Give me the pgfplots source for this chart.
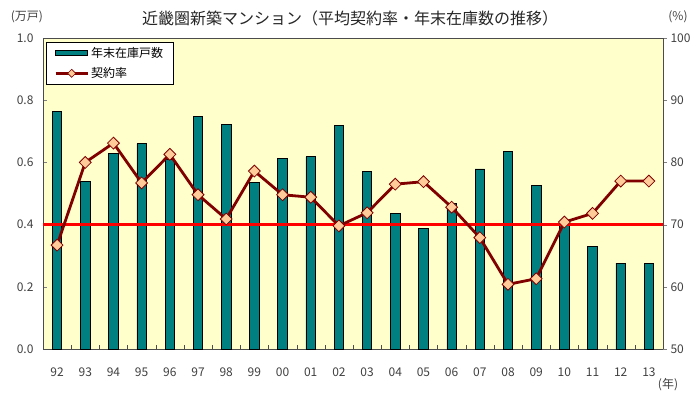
\documentclass[border=0pt]{standalone}
\usepackage{pgfplots}
\pgfplotsset{compat=1.18}
\usepackage{fontspec}
\setmainfont{Noto Sans CJK JP}
\definecolor{bg}{HTML}{FFFFCC}
\definecolor{barc}{HTML}{008080}
\definecolor{linec}{HTML}{800000}
\definecolor{mk}{HTML}{FFCC99}
\definecolor{tl}{HTML}{404040}
\begin{document}
\begin{tikzpicture}
\useasboundingbox (-43pt,-50pt) rectangle (657pt,349pt);
\begin{axis}[at={(0,0)}, anchor=south west, scale only axis, width=620pt, height=311pt,
 xmin=-0.5, xmax=21.5, ymin=0, ymax=1,
 axis background/.style={fill=bg},
 axis line style={black!70, line width=0.8pt},
 xtick={0,...,21},
 xticklabels={92,93,94,95,96,97,98,99,00,01,02,03,04,05,06,07,08,09,10,11,12,13},
 major x tick style={draw=none},
 minor xtick={0.5,1.5,...,20.5},
 minor x tick style={black!70},
 minor tick length=4pt, major tick length=4pt,
 ytick={0,0.2,0.4,0.6,0.8,1},
 /pgf/number format/fixed, /pgf/number format/fixed zerofill, /pgf/number format/precision=1,
 tick align=inside, ytick pos=left, xtick pos=bottom,
 /pgf/number format/assume math mode=true,
 tick label style={font=\fontsize{12}{13}\selectfont, text=tl},
 xticklabel style={yshift=-15pt},
 yticklabel style={xshift=-6pt},
 ]
\addplot[ybar, bar width=9.5pt, fill=barc, draw=black, line width=0.7pt] coordinates {
(0,0.765) (1,0.54) (2,0.63) (3,0.66) (4,0.61) (5,0.747) (6,0.723) (7,0.535)
(8,0.612) (9,0.618) (10,0.719) (11,0.57) (12,0.436) (13,0.388) (14,0.468)
(15,0.579) (16,0.636) (17,0.525) (18,0.407) (19,0.33) (20,0.276) (21,0.276)};
\end{axis}
\begin{axis}[at={(0,0)}, anchor=south west, scale only axis, width=620pt, height=311pt,
 xmin=-0.5, xmax=21.5, ymin=50, ymax=100,
 axis x line=none, axis y line*=right,
 axis line style={black!70, line width=0.8pt},
 ytick={50,60,70,80,90,100},
 tick align=outside, major tick length=4pt,
 /pgf/number format/assume math mode=true,
 tick label style={font=\fontsize{12}{13}\selectfont, text=tl},
 legend style={at={(0.005,0.988)}, anchor=north west, draw=black, fill=white,
   font=\fontsize{12}{13}\selectfont, row sep=5pt, inner xsep=8pt, inner ysep=3pt,
   cells={anchor=west}},
 ]
\addlegendimage{legend image code/.code={\draw[fill=barc, draw=black, line width=0.7pt] (0pt,-2.5pt) rectangle (32pt,2.5pt);}}
\addlegendentry{年末在庫戸数}
\addplot[red, line width=2.6pt, forget plot] coordinates {(-0.5,70) (21.5,70)};
\addplot[linec, line width=2.8pt, mark=square*, mark size=4.2pt,
  mark options={rotate=45, fill=mk, draw=linec, line width=0.8pt},
  legend image code/.code={\draw[linec, line width=2.8pt] (0pt,0pt) -- (32pt,0pt);
    \draw[fill=mk, draw=linec, line width=0.6pt] (16pt,4pt) -- (20pt,0pt) -- (16pt,-4pt) -- (12pt,0pt) -- cycle;}]
 coordinates {
(0,66.7) (1,80.0) (2,83.1) (3,76.7) (4,81.3) (5,74.8) (6,70.9) (7,78.6)
(8,74.8) (9,74.4) (10,69.8) (11,71.9) (12,76.5) (13,76.9) (14,72.8)
(15,67.9) (16,60.4) (17,61.3) (18,70.4) (19,71.8) (20,77.0) (21,77.0)};
\addlegendentry{契約率}
\end{axis}
\node[font=\fontsize{16}{17}\selectfont, text=black!85] at (307pt,331pt) {近畿圏新築マンション（平均契約率・年末在庫数の推移）};
\node[font=\fontsize{12}{13}\selectfont, text=tl] at (-16pt,332pt) {(万戸)};
\node[font=\fontsize{12}{13}\selectfont, text=tl] at (635pt,332pt) {(\%)};
\node[font=\fontsize{12}{13}\selectfont, text=tl] at (625pt,-36pt) {(年)};
\end{tikzpicture}
\end{document}
